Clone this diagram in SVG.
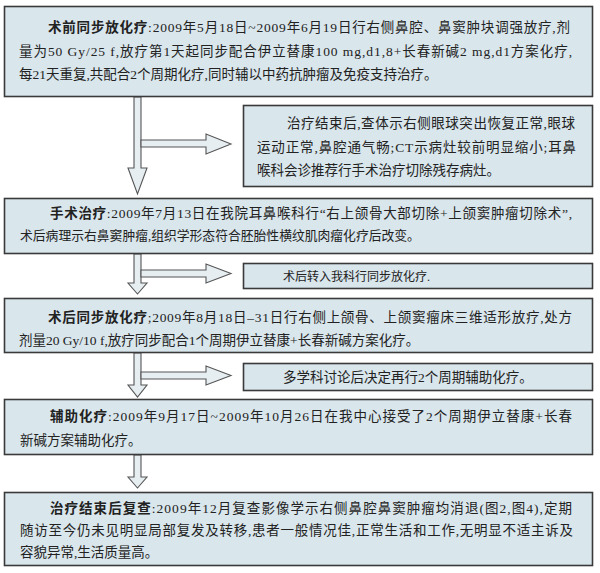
<svg xmlns="http://www.w3.org/2000/svg" width="600" height="573" viewBox="0 0 600 573">
<style>
.box{fill:#d9e6ec;stroke:#3a3a3a;stroke-width:1.6}
.arr{fill:#e6eef2;stroke:#555555;stroke-width:1.1;stroke-linejoin:miter}
text{font-family:"Liberation Serif","Noto Sans CJK SC",serif;font-size:13.5px;fill:#222}
.h{font-family:"Noto Sans CJK SC",sans-serif;font-weight:bold}
</style>
<rect width="600" height="573" fill="#ffffff"/>
<g id="connectors">
<polygon class="arr" points="134,97 141,97 141,168 147,168 137.5,194 128,168 134,168"/>
<polygon class="arr" points="141,140 206,140 206,134 231,144 206,154 206,147 141,147"/>
<polygon class="arr" points="134,254 141,254 141,283 147,283 137.5,294 128,283 134,283"/>
<polygon class="arr" points="141,270 206,270 206,264 231,273.5 206,283 206,277 141,277"/>
<polygon class="arr" points="134,353 141,353 141,385 147,385 137.5,397 128,385 134,385"/>
<polygon class="arr" points="141,372 206,372 206,366 231,375.5 206,385 206,379 141,379"/>
<polygon class="arr" points="134,455 141,455 141,477 147,477 137.5,488 128,477 134,477"/>
</g>
<g id="n1">
<rect class="box" x="4.5" y="6.5" width="588" height="90"/>
<text x="48" y="32" textLength="522" lengthAdjust="spacing"><tspan class="h">术前同步放化疗</tspan>:2009年5月18日~2009年6月19日行右侧鼻腔、鼻窦肿块调强放疗,剂</text>
<text x="19" y="56" textLength="553" lengthAdjust="spacing">量为50 Gy/25 f,放疗第1天起同步配合伊立替康100 mg,d1,8+长春新碱2 mg,d1方案化疗,</text>
<text x="19" y="79">每21天重复,共配合2个周期化疗,同时辅以中药抗肿瘤及免疫支持治疗。</text>
</g>
<g id="n2">
<rect class="box" x="243.5" y="105.5" width="349" height="81"/>
<text x="287" y="128" textLength="288" lengthAdjust="spacing">治疗结束后,查体示右侧眼球突出恢复正常,眼球</text>
<text x="257" y="152" textLength="319" lengthAdjust="spacing">运动正常,鼻腔通气畅;CT示病灶较前明显缩小;耳鼻</text>
<text x="257" y="175">喉科会诊推荐行手术治疗切除残存病灶。</text>
</g>
<g id="n3">
<rect class="box" x="4.5" y="198.5" width="588" height="55"/>
<text x="50" y="218" textLength="522" lengthAdjust="spacing"><tspan class="h">手术治疗</tspan>:2009年7月13日在我院耳鼻喉科行“右上颌骨大部切除+上颌窦肿瘤切除术”,</text>
<text x="20" y="240" style="font-size:12.8px">术后病理示右鼻窦肿瘤,组织学形态符合胚胎性横纹肌肉瘤化疗后改变。</text>
</g>
<g id="n4">
<rect class="box" x="243.5" y="263.5" width="349" height="25"/>
<text x="283" y="281" style="font-size:12px">术后转入我科行同步放化疗.</text>
</g>
<g id="n5">
<rect class="box" x="4.5" y="298.5" width="588" height="54"/>
<text x="48" y="322" textLength="524" lengthAdjust="spacing"><tspan class="h">术后同步放化疗</tspan>;2009年8月18日–31日行右侧上颌骨、上颌窦瘤床三维适形放疗,处方</text>
<text x="19" y="345">剂量20 Gy/10 f,放疗同步配合1个周期伊立替康+长春新碱方案化疗。</text>
</g>
<g id="n6">
<rect class="box" x="243.5" y="363.5" width="349" height="27"/>
<text x="283" y="382">多学科讨论后决定再行2个周期辅助化疗。</text>
</g>
<g id="n7">
<rect class="box" x="4.5" y="399.5" width="588" height="55"/>
<text x="50" y="421" textLength="522" lengthAdjust="spacing"><tspan class="h">辅助化疗</tspan>:2009年9月17日~2009年10月26日在我中心接受了2个周期伊立替康+长春</text>
<text x="20" y="445">新碱方案辅助化疗。</text>
</g>
<g id="n8">
<rect class="box" x="4.5" y="492.5" width="588" height="73"/>
<text x="50" y="513" textLength="522" lengthAdjust="spacing"><tspan class="h">治疗结束后复查</tspan>:2009年12月复查影像学示右侧鼻腔鼻窦肿瘤均消退(图2,图4),定期</text>
<text x="20" y="535" textLength="553" lengthAdjust="spacing">随访至今仍未见明显局部复发及转移,患者一般情况佳,正常生活和工作,无明显不适主诉及</text>
<text x="20" y="557">容貌异常,生活质量高。</text>
</g>
</svg>
